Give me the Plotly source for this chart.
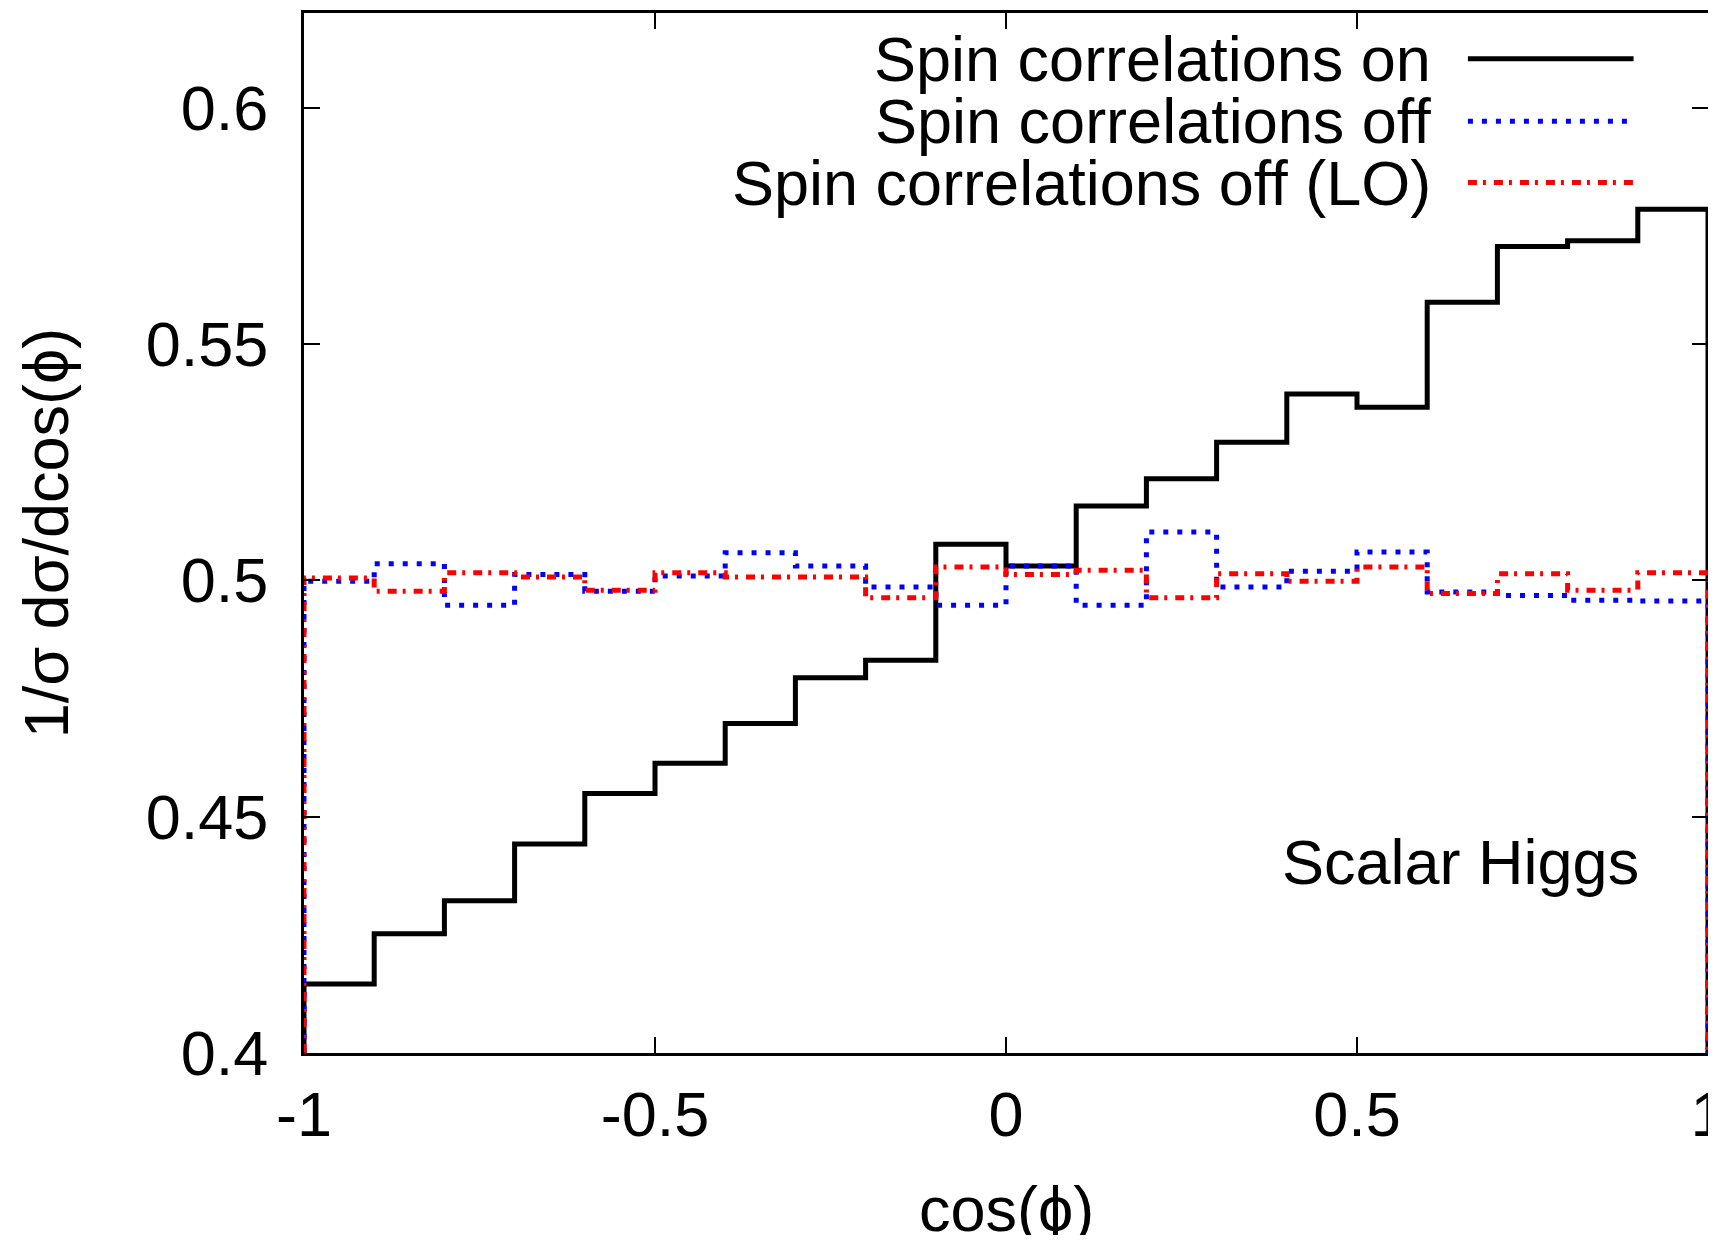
import plotly.graph_objects as go

# bin edges of cos(phi), 20 bins from -1 to 1
bin_lo = [-1.0, -0.9, -0.8, -0.7, -0.6, -0.5, -0.4, -0.3, -0.2, -0.1,
          0.0, 0.1, 0.2, 0.3, 0.4, 0.5, 0.6, 0.7, 0.8, 0.9]
x_max = 1.0
y_floor = 0.4

spin_on = [0.4146, 0.4252, 0.4322, 0.4442, 0.4549, 0.4613, 0.4697, 0.4794, 0.4831, 0.5076,
           0.5030, 0.5157, 0.5215, 0.5292, 0.5394, 0.5366, 0.5588, 0.5706, 0.5718, 0.5785]
spin_off = [0.4998, 0.5035, 0.4947, 0.5012, 0.4977, 0.5009, 0.5058, 0.5030, 0.4986, 0.4947,
            0.5030, 0.4947, 0.5102, 0.4986, 0.5019, 0.5060, 0.4975, 0.4968, 0.4958, 0.4956]
spin_off_lo = [0.5005, 0.4977, 0.5016, 0.5007, 0.4979, 0.5016, 0.5007, 0.5007, 0.4963, 0.5028,
               0.5012, 0.5021, 0.4963, 0.5014, 0.4998, 0.5028, 0.4972, 0.5014, 0.4979, 0.5016]

names = ['Spin correlations on', 'Spin correlations off', 'Spin correlations off (LO)']
colors = ['black', '#0000ff', '#ff0000']
dashes = ['solid', '5px,9px', '9px,6px,3px,8px']
widths = [5, 5, 5]

FONT = 'Liberation Sans, Arial, Helvetica, sans-serif'
FS = 63


def histeps(vals):
    # gnuplot-like histogram steps, dropping to the floor at both ends
    xs = [bin_lo[0]] + bin_lo + [x_max]
    ys = [y_floor] + vals + [y_floor]
    return xs, ys


fig = go.Figure()

for vals, name, col, dash, w in zip([spin_on, spin_off, spin_off_lo], names, colors, dashes, widths):
    xs, ys = histeps(vals)
    fig.add_trace(go.Scatter(x=xs, y=ys, mode='lines', name=name,
                             line=dict(color=col, width=w, dash=dash, shape='hv'),
                             showlegend=False))

# legend drawn by hand: text right-aligned, sample line on the right
leg_y = [0.956, 0.896, 0.837]
for name, col, dash, w, yy in zip(names, colors, dashes, widths, leg_y):
    fig.add_annotation(x=0.804, y=yy, xref='paper', yref='paper', text=name,
                       showarrow=False, xanchor='right', yanchor='middle',
                       font=dict(size=FS, color='black', family=FONT))
    fig.add_shape(type='line', xref='paper', yref='paper', x0=0.829, x1=0.947, y0=yy, y1=yy,
                  line=dict(color=col, width=w, dash=dash))

fig.add_annotation(x=0.905, y=0.4405, text='Scalar Higgs', showarrow=False,
                   xanchor='right', yanchor='middle',
                   font=dict(size=FS, color='black', family=FONT))

# x title as annotation so it can sit low (cut by the bottom edge, as in the original)
fig.add_annotation(x=0.5, y=-0.15, xref='paper', yref='paper', text='cos(ϕ)', showarrow=False,
                   xanchor='center', yanchor='middle',
                   font=dict(size=FS, color='black', family=FONT))

axis_common = dict(showgrid=False, zeroline=False, showline=True, linecolor='black', linewidth=3,
                   mirror='ticks', ticks='inside', ticklen=16, tickwidth=1.5, tickcolor='black',
                   ticklabeloverflow='allow',
                   tickfont=dict(size=FS, color='black', family=FONT))

fig.update_xaxes(range=[-1, 1], tickvals=[-1, -0.5, 0, 0.5, 1], ticktext=['-1', '-0.5', '0', '0.5', '1'],
                 ticklabelstandoff=4,
                 **axis_common)
fig.update_yaxes(range=[0.4, 0.62], tickvals=[0.4, 0.45, 0.5, 0.55, 0.6],
                 ticktext=['0.4', '0.45', '0.5', '0.55', '0.6'],
                 ticklabelstandoff=20,
                 title=dict(text='1/σ dσ/dcos(ϕ)', font=dict(size=FS, color='black', family=FONT), standoff=57),
                 **axis_common)

# page body has an 8px margin, so the figure is kept inside the window
fig.update_layout(width=1700, height=1227, plot_bgcolor='white', paper_bgcolor='white',
                  margin=dict(l=296, r=0, t=5, b=182, autoexpand=False),
                  font=dict(family=FONT, color='black'))

fig.write_html('out.html')
